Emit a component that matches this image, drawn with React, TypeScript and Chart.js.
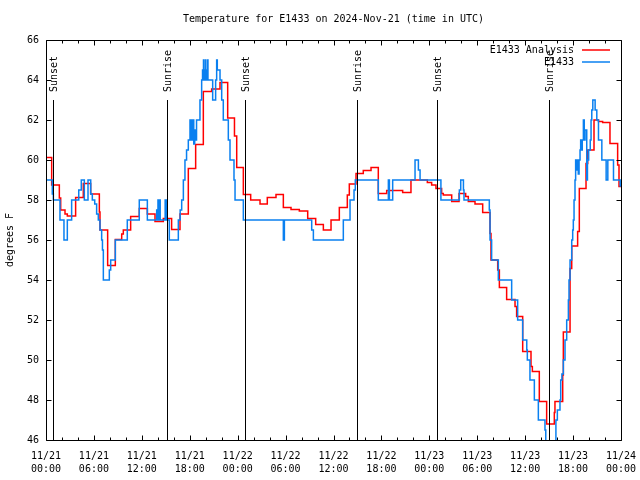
import React, { useEffect, useRef } from 'react';
import { Chart, registerables } from 'chart.js';

Chart.register(...registerables);

const TITLE = 'Temperature for E1433 on 2024-Nov-21 (time in UTC)';
const Y_TITLE = 'degrees F';
const SERIES_NAMES = ['E1433 Analysis', 'E1433'];
const SERIES_COLORS = ['#ff0000', '#0a80f0'];

const X_DAYS = ['11/21', '11/21', '11/21', '11/21', '11/22', '11/22', '11/22', '11/22', '11/23', '11/23', '11/23', '11/23', '11/24'];
const X_TIMES = ['00:00', '06:00', '12:00', '18:00', '00:00', '06:00', '12:00', '18:00', '00:00', '06:00', '12:00', '18:00', '00:00'];

const SUN_HOURS = [0.92, 15.1, 24.9, 39.0, 48.9, 63.0];
const SUN_LABELS = ['Sunset', 'Sunrise', 'Sunset', 'Sunrise', 'Sunset', 'Sunrise'];
const SUN_MARK_TOP = 63;

// [hours since 11/21 00:00 UTC, degrees F]
const ANALYSIS: [number, number][] = [
  [0, 60.13], [0.71, 58.75], [1.67, 58.1], [1.84, 57.5], [2.38, 57.3], [2.67, 57.2], [3.71, 58.13], [4.67, 58.83],
  [5.59, 58.3], [6.68, 57.4], [6.76, 56.5], [7.72, 54.73], [8.68, 56.03], [9.48, 56.3], [9.68, 56.5], [10.6, 57.17],
  [11.68, 57.58], [12.69, 57.3], [13.65, 56.92], [14.69, 57.08], [15.73, 56.53], [16.78, 57.3], [17.82, 59.58],
  [18.74, 60.78], [19.7, 63.42], [20.74, 63.55], [21.79, 63.88], [22.75, 62.1], [23.6, 61.2], [23.88, 59.63],
  [24.71, 58.28], [25.63, 58.0], [26.8, 57.8], [27.71, 58.12], [28.8, 58.28], [29.72, 57.63], [30.68, 57.53],
  [31.72, 57.45], [32.77, 57.08], [33.77, 56.78], [34.73, 56.5], [35.69, 57.0], [36.73, 57.63], [37.73, 58.25],
  [37.98, 58.8], [38.82, 59.33], [39.73, 59.47], [40.7, 59.63], [41.61, 58.33], [42.66, 58.47], [44.66, 58.37],
  [45.7, 59.0], [47.75, 58.87], [48.29, 58.75], [48.83, 58.58], [49.54, 58.33], [49.75, 58.25], [50.8, 57.92],
  [51.72, 58.33], [52.55, 58.17], [52.88, 57.92], [53.72, 57.8], [54.68, 57.37], [55.6, 56.33], [55.72, 55.0],
  [56.56, 54.5], [56.77, 53.63], [57.68, 53.03], [58.73, 52.67], [58.93, 52.17], [59.69, 50.42], [60.73, 49.67],
  [60.9, 49.42], [61.77, 47.92], [62.69, 46.8], [63.65, 47.37], [63.73, 47.92], [64.7, 49.25], [64.78, 51.4],
  [65.62, 54.58], [65.83, 55.7], [66.57, 56.42], [66.78, 58.58], [67.62, 59.83], [67.83, 60.5], [68.62, 62.0],
  [69.18, 61.92], [69.7, 61.88], [70.62, 60.83], [71.58, 59.75], [71.75, 58.67], [72, 58.67],
];

const OBSERVED: [number, number][] = [
  [0, 59], [0.79, 58.3], [0.92, 58], [1.75, 57], [2.25, 56], [2.67, 57], [3.21, 58], [4.1, 58.5], [4.42, 59],
  [4.8, 58], [5.26, 59], [5.6, 58.3], [5.8, 58], [6.1, 57.8], [6.34, 57.3], [6.55, 57], [6.76, 56.5], [6.97, 56],
  [7.07, 55.5], [7.18, 54], [7.93, 54.5], [8.1, 55], [8.68, 56], [10.18, 57], [11.68, 58], [12.69, 57],
  [13.86, 57.5], [13.95, 57], [14.02, 58], [14.12, 57], [14.2, 58], [14.3, 57], [14.92, 58], [15.1, 57],
  [15.44, 56], [16.57, 57], [16.8, 57.5], [16.99, 58], [17.2, 59], [17.4, 60], [17.6, 60.5], [17.82, 61],
  [18.03, 62], [18.2, 61], [18.35, 62], [18.5, 60.8], [18.62, 61.5], [18.75, 61], [18.85, 62], [19.28, 63],
  [19.49, 64], [19.6, 64.5], [19.72, 65], [19.76, 64], [19.9, 64.5], [19.97, 65], [20.01, 64], [20.2, 64.5],
  [20.24, 65], [20.28, 64], [20.54, 64], [20.87, 63], [21.24, 64], [21.37, 65], [21.45, 64.5], [21.58, 64.5], [21.79, 64],
  [22.0, 63], [22.2, 62], [22.83, 61], [23.04, 60], [23.54, 59], [23.67, 58], [24.71, 57], [29.72, 56],
  [29.85, 57], [33.27, 56.5], [33.48, 56], [37.23, 57], [38.07, 58], [38.57, 58.5], [38.73, 59], [41.61, 58],
  [42.87, 59], [43.0, 58], [43.41, 59], [46.21, 60], [46.63, 59.5], [46.84, 59], [49.45, 58], [51.76, 58.5],
  [51.93, 59], [52.27, 58.5], [52.34, 58], [55.51, 57.5], [55.6, 56], [55.8, 55], [56.64, 54], [58.31, 53],
  [59.06, 52], [59.69, 51], [60.2, 50.5], [60.27, 50], [60.6, 49], [61.15, 48], [61.65, 47], [62.48, 46.5],
  [62.58, 45.5], [63.85, 47], [64.03, 47.5], [64.36, 48], [64.45, 49], [64.6, 49.3], [64.78, 50], [64.99, 51],
  [65.2, 52], [65.41, 53], [65.49, 54], [65.62, 55], [65.83, 56], [65.95, 56.5], [66.03, 57], [66.12, 58],
  [66.24, 59], [66.32, 60], [66.45, 59.5], [66.55, 60], [66.65, 59.3], [66.75, 60], [66.87, 60.5], [66.95, 61],
  [67.05, 60.5], [67.15, 61], [67.29, 62], [67.4, 61], [67.5, 61.5], [67.71, 59], [67.8, 60], [67.95, 60.5],
  [68.15, 61], [68.25, 62], [68.34, 62.5], [68.47, 63], [68.76, 62.5], [68.97, 62], [69.18, 61], [69.6, 60],
  [70.14, 59], [70.35, 60], [71.06, 59], [71.9, 58.7], [72, 58.7],
];

const X_MIN = 0;
const X_MAX = 72;
const X_MAJOR = 6;
const X_MINOR = 2;
const Y_MIN = 46;
const Y_MAX = 66;
const Y_STEP = 2;

const FONT_FAMILY = '"DejaVu Sans Mono", monospace';
const FONT = `10px ${FONT_FAMILY}`;

const overlay = {
  id: 'overlay',
  afterDatasetsDraw(chart: any) {
    const { ctx, chartArea: a, scales } = chart;
    const x = scales.x;
    const y = scales.y;
    ctx.save();
    ctx.strokeStyle = '#000';
    ctx.fillStyle = '#000';
    ctx.lineWidth = 1;
    ctx.font = FONT;

    // sunrise / sunset markers
    SUN_HOURS.forEach((h, i) => {
      const px = Math.round(x.getPixelForValue(h)) + 0.5;
      const top = y.getPixelForValue(SUN_MARK_TOP);
      ctx.beginPath();
      ctx.moveTo(px, top);
      ctx.lineTo(px, a.bottom);
      ctx.stroke();
      ctx.save();
      ctx.translate(px + 1, top - 8);
      ctx.rotate(-Math.PI / 2);
      ctx.textAlign = 'left';
      ctx.textBaseline = 'middle';
      ctx.fillText(SUN_LABELS[i], 0, 0);
      ctx.restore();
    });

    // frame
    const L = Math.round(a.left) + 0.5;
    const R = Math.round(a.right) + 0.5;
    const T = Math.round(a.top) + 0.5;
    const B = Math.round(a.bottom) + 0.5;
    ctx.beginPath();
    ctx.rect(L, T, R - L, B - T);
    ctx.stroke();

    // x ticks (inward, bottom and top)
    ctx.beginPath();
    for (let v = X_MIN; v <= X_MAX + 1e-9; v += X_MINOR) {
      const px = Math.round(x.getPixelForValue(v)) + 0.5;
      const len = Math.abs(v % X_MAJOR) < 1e-9 ? 5 : 3;
      ctx.moveTo(px, B);
      ctx.lineTo(px, B - len);
      ctx.moveTo(px, T);
      ctx.lineTo(px, T + len);
    }
    // y ticks (inward, left and right)
    for (let v = Y_MIN; v <= Y_MAX + 1e-9; v += Y_STEP) {
      const py = Math.round(y.getPixelForValue(v)) + 0.5;
      ctx.moveTo(L, py);
      ctx.lineTo(L + 5, py);
      ctx.moveTo(R, py);
      ctx.lineTo(R - 5, py);
    }
    ctx.stroke();

    // title
    ctx.textAlign = 'center';
    ctx.textBaseline = 'middle';
    ctx.fillText(TITLE, (a.left + a.right) / 2, 19);

    // y-axis title
    ctx.save();
    ctx.translate(10, (a.top + a.bottom) / 2);
    ctx.rotate(-Math.PI / 2);
    ctx.textAlign = 'center';
    ctx.textBaseline = 'middle';
    ctx.fillText(Y_TITLE, 0, 0);
    ctx.restore();

    // legend
    ctx.textAlign = 'right';
    ctx.textBaseline = 'middle';
    SERIES_NAMES.forEach((name, i) => {
      const ly = 50 + i * 12;
      ctx.fillStyle = '#000';
      ctx.fillText(name, 574, ly);
      ctx.strokeStyle = SERIES_COLORS[i];
      ctx.lineWidth = 1.5;
      ctx.beginPath();
      ctx.moveTo(582, ly);
      ctx.lineTo(610, ly);
      ctx.stroke();
    });
    ctx.restore();
  },
};

export default function App() {
  const ref = useRef<HTMLCanvasElement | null>(null);

  useEffect(() => {
    const canvas = ref.current;
    if (!canvas) return;
    const chart = new Chart(canvas, {
      type: 'line',
      data: {
        datasets: [
          {
            label: SERIES_NAMES[1],
            data: OBSERVED.map(([h, t]) => ({ x: h, y: t })),
            borderColor: SERIES_COLORS[1],
            backgroundColor: SERIES_COLORS[1],
            borderWidth: 1.5,
            pointRadius: 0,
            stepped: true,
            fill: false,
          },
          {
            label: SERIES_NAMES[0],
            data: ANALYSIS.map(([h, t]) => ({ x: h, y: t })),
            borderColor: SERIES_COLORS[0],
            backgroundColor: SERIES_COLORS[0],
            borderWidth: 1.5,
            pointRadius: 0,
            stepped: true,
            fill: false,
          },
        ],
      },
      options: {
        animation: false,
        responsive: false,
        maintainAspectRatio: false,
        devicePixelRatio: 1,
        layout: { padding: { top: 40, right: 19, left: 0, bottom: 0 } },
        plugins: {
          legend: { display: false },
          tooltip: { enabled: false },
          title: { display: false },
        },
        scales: {
          x: {
            type: 'linear',
            min: X_MIN,
            max: X_MAX,
            afterFit: (s: any) => {
              s.height = 40;
              s.paddingLeft = 0;
              s.paddingRight = 0;
            },
            afterBuildTicks: (s: any) => {
              const t = [];
              for (let v = X_MIN; v <= X_MAX; v += X_MAJOR) t.push({ value: v });
              s.ticks = t;
            },
            grid: { display: false, drawTicks: false },
            border: { display: false },
            ticks: {
              padding: 10,
              maxRotation: 0,
              autoSkip: false,
              color: '#000',
              font: { family: FONT_FAMILY, size: 10, lineHeight: 1.3 },
              callback: (_v: any, i: number) => [X_DAYS[i], X_TIMES[i]],
            },
          },
          y: {
            type: 'linear',
            min: Y_MIN,
            max: Y_MAX,
            afterFit: (s: any) => {
              s.width = 46;
              s.paddingTop = 0;
              s.paddingBottom = 0;
            },
            grid: { display: false, drawTicks: false },
            border: { display: false },
            ticks: {
              stepSize: Y_STEP,
              padding: 7,
              color: '#000',
              font: { family: FONT_FAMILY, size: 10 },
            },
          },
        },
      },
      plugins: [overlay],
    } as any);
    return () => chart.destroy();
  }, []);

  return (
    <div style={{ position: 'absolute', left: 0, top: 0, width: 640, height: 480, background: '#fff' }}>
      <canvas ref={ref} width={640} height={480} style={{ display: 'block' }} />
    </div>
  );
}
